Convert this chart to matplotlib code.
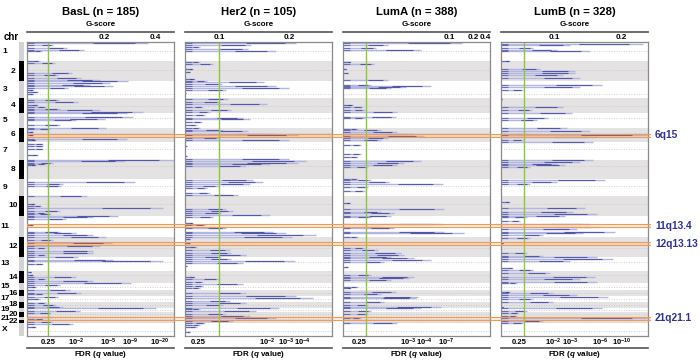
import matplotlib
matplotlib.use('Agg')
import matplotlib.pyplot as plt
import matplotlib.transforms as mtransforms
from matplotlib.patches import Rectangle

plt.rcParams['font.family'] = ['Liberation Sans', 'DejaVu Sans']
plt.rcParams['mathtext.fontset'] = 'custom'
plt.rcParams['mathtext.rm'] = 'Liberation Sans:bold'
plt.rcParams['mathtext.bf'] = 'Liberation Sans:bold'
plt.rcParams['mathtext.it'] = 'Liberation Sans:italic:bold'

# ---------------- data ----------------
chrom_names = [str(i) for i in range(1, 23)] + ['X']
chrom_sizes = [57, 61, 49, 46, 44, 43, 53, 58, 51, 61, 62, 60, 42, 38, 20, 18, 17, 18, 12, 15, 8, 12, 38]
centromere_frac = [0.5, 0.45, 0.75, 0.55, 0.35, 0.4, 0.4, 0.35, 0.4, 0.4, 0.4, 0.55, 0.4, 0.3, 0.5, 0.5, 0.5, 0.5, 0.5, 0.5, 0.5, 0.6, 0.6]

titles = ['BasL (n = 185)', 'Her2 (n = 105)', 'LumA (n = 388)', 'LumB (n = 328)']

# genomic position (cumulative units) and plotted score (% of panel width)
basl_pos = [3, 10, 17, 23, 28, 58, 63, 92, 98, 107, 113, 117, 122, 128, 132, 138, 143, 150, 155,
            175, 181, 190, 195, 200, 205, 210, 213, 225, 230, 235, 250, 257, 260, 270, 280, 291, 295,
            305, 313, 320, 340, 355, 357, 363, 365, 369, 420, 425, 432, 462, 487, 492, 500, 507, 513,
            518, 523, 527, 532, 551, 570, 575, 580, 585, 595, 605, 613, 620, 628, 635, 640, 647, 655,
            658, 667, 690, 700, 707, 713, 717, 723, 731, 737, 745, 753, 757, 765, 773, 783, 790, 795,
            800, 807, 815, 827, 833, 840, 848, 855]
basl_score = [82, 18, 27, 39, 10, 8.6, 18.9, 30.9, 21.1, 37, 49.5, 68.4, 56.4, 42.7, 58.2, 28, 4, 7.5, 4,
              21.8, 34.8, 7.5, 13.2, 22.3, 49.5, 79, 67.7, 71.8, 53, 33.6, 22.3, 54, 15.5, 4, 4, 67.7, 6.4,
              11, 11, 11, 7.5, 100, 66.6, 17.7, 13.2, 6.4, 73.4, 24.5, 23.4, 40.5, 5.2, 9.8, 92.7, 22.3, 13.2,
              16.6, 62, 45, 26.8, 4, 22.3, 33.6, 45, 54, 17.7, 57.5, 49.5, 13.2, 45, 45, 13.2, 34.8, 58.6,
              92.7, 11, 3, 4, 33.6, 13.2, 45, 71, 22.3, 6.4, 29, 37, 11, 21, 8.6, 13.2, 20, 24.5,
              88, 36, 16.6, 17.7, 11, 17.7, 31.4, 6.4]

her2_pos = [3, 8, 15, 22, 28, 60, 65, 80, 90, 112, 117, 120, 125, 132, 138, 145, 153,
            170, 180, 187, 195, 205, 211, 220, 227, 232, 240, 250, 257, 263, 267, 275, 280, 287, 295,
            313, 342, 350, 357, 363, 367, 373, 413, 420, 425, 432, 437, 455, 460, 502, 507, 513, 520, 525,
            543, 550, 560, 570, 575, 580, 585, 593, 605, 617, 625, 633, 640, 645, 653, 657, 663, 673,
            707, 713, 720, 727, 733, 740, 755, 763, 770, 777, 783, 790, 798, 803, 807, 817, 823, 830,
            837, 843, 850, 857, 870]
her2_score = [75.6, 45, 10, 43, 62, 10, 19, 5.6, 3.4, 6.8, 14.7, 54, 25, 62, 71, 28, 1,
              29, 24, 56, 12.4, 31.6, 17, 13.5, 39.5, 44, 11.3, 7.9, 10, 26, 43, 62, 76.7, 23.7, 71,
              1.1, 1.1, 71, 82.4, 76.7, 57.6, 41.8, 46, 53, 44, 22.6, 14.7, 17, 36, 28, 32.7, 24.8, 57.6, 19,
              5.6, 13.5, 28, 60, 69, 89, 73, 3.4, 3.4, 7.9, 30.5, 31.6, 41.8, 24.8, 31.6, 74.5, 39.5, 1.1,
              6.8, 23.7, 12.4, 39.5, 12.4, 10, 41.8, 75.6, 87, 30.5, 41.8, 26, 64, 10, 48.5, 28, 44, 62,
              32.7, 13.5, 10, 7.9, 3.4]

luma_pos = [3, 10, 17, 25, 60, 65, 80, 92, 115, 128, 132, 135, 138, 190, 195, 205, 210, 225, 228,
            260, 265, 271, 277, 283, 288, 295, 310, 335, 345, 357, 363, 370, 375, 410, 415, 420, 425,
            435, 447, 485, 503, 510, 515, 522, 527, 548, 555, 560, 570, 575, 585, 620, 625, 635, 640,
            645, 650, 655, 660, 675, 700, 705, 710, 715, 735, 740, 750, 757, 765, 770, 780, 790, 795,
            800, 807, 817, 830, 845]
luma_score = [81, 30.5, 22.6, 53, 5.6, 21.4, 2.3, 3.4, 30.5, 19, 60, 43, 32.7, 6.8, 13.5, 14.7, 37, 36, 14.7,
              10, 26, 37, 48.5, 55.3, 30.5, 26, 12.4, 12.4, 10, 53, 41.8, 37, 17, 10, 19, 31.6, 67.7,
              17, 14.7, 4.5, 68.8, 26, 35, 32.7, 19, 67.7, 26, 35, 68.8, 82.4, 10, 14.7, 23.7, 39.5, 41.8,
              32.7, 48.5, 60, 28, 3.4, 19, 48.5, 45, 32.7, 10, 5.6, 36, 26, 50.8, 49.7, 28, 17, 66.6,
              53, 19, 17, 12.4, 37]

lumb_pos = [5, 10, 17, 23, 27, 58, 80, 87, 93, 100, 107, 130, 135, 143, 170, 195, 205, 213, 227, 235,
            257, 268, 275, 280, 285, 293, 300, 355, 360, 365, 370, 375, 415, 420, 425, 480, 500, 510,
            517, 523, 527, 538, 548, 555, 563, 570, 575, 580, 590, 605, 635, 642, 647, 653, 658, 680,
            685, 695, 707, 713, 720, 725, 750, 755, 760, 765, 773, 780, 795, 800, 807, 813, 823, 830,
            837, 845]
lumb_score = [96.8, 47, 22, 37.9, 60.5, 6, 26.5, 50.3, 50.3, 42.4, 53.7, 68.5, 53.7, 15.2, 0.5, 42.4, 20.9, 48, 32.2, 24.3,
              44.7, 60.5, 19.7, 99, 65, 15.2, 62.8, 62.8, 53.7, 37.9, 43.5, 19.7, 70.7, 37.9, 19.7, 6.1, 57, 49.2,
              65, 43.5, 17.5, 13, 60.5, 67.3, 51.5, 77.5, 56, 28.8, 19.7, 1.6, 17.5, 28.8, 65, 76.4, 47, 8.4,
              22, 33.3, 64, 53.7, 65, 10.7, 6.1, 35.6, 51.5, 73, 22, 35.6, 1.6, 68.5, 17.5, 11.8, 10.7, 99,
              28.8, 15.2]

positions = [basl_pos, her2_pos, luma_pos, lumb_pos]
scores = [basl_score, her2_score, luma_score, lumb_score]

# q = 0.25 threshold position (% of panel width)
threshold = [14.3, 23.1, 15.6, 15.6]

gscore_tick_pos = [[52.4, 87.1], [23.1, 70.7], [72.1, 88.4, 96.6], [36.0, 81.6]]
gscore_tick_lab = [['0.2', '0.4'], ['0.1', '0.2'], ['0.1', '0.2', '0.4'], ['0.1', '0.2']]

fdr_tick_pos = [[14.3, 33.3, 55.1, 70.1, 90.5], [8.8, 55.8, 68.7, 79.6],
                [10.9, 44.5, 55.5, 70.1], [12.2, 35.4, 46.9, 67.3, 82.3]]
fdr_tick_lab = [['0.25', '$10^{-2}$', '$10^{-5}$', '$10^{-9}$', '$10^{-20}$'],
                ['0.25', '$10^{-2}$', '$10^{-3}$', '$10^{-4}$'],
                ['0.25', '$10^{-3}$', '$10^{-4}$', '$10^{-7}$'],
                ['0.25', '$10^{-2}$', '$10^{-3}$', '$10^{-6}$', '$10^{-10}$']]

peak_names = ['6q15', '11q13.4', '12q13.13', '21q21.1']
peak_start = [275, 547, 601, 825]
peak_end = [286, 556, 611, 834]

# ---------------- layout ----------------
W, H = 700, 364
fig = plt.figure(figsize=(W / 100, H / 100), dpi=100)

def fx(px):
    return px / W

def fy(py):
    return 1 - py / H

top_px, bot_px = 42, 336
panel_left = [27, 185, 343, 501]
panel_w = 147
total = sum(chrom_sizes)
starts = [sum(chrom_sizes[:i]) for i in range(len(chrom_sizes))]

band_color = '#e4e2e2'
light_bar = '#b3b6e1'
dark_bar = '#2c3190'
green = '#8cc63f'
label_blue = '#2e3192'

def ax_y(py):
    return (bot_px - py) / (bot_px - top_px)

for k in range(4):
    ax = fig.add_axes([fx(panel_left[k]), fy(bot_px), panel_w / W, (bot_px - top_px) / H])
    ax.set_xlim(0, 100)
    ax.set_ylim(total, 0)
    ax.set_xticks([])
    ax.set_yticks([])
    for s in ax.spines.values():
        s.set_color('#8a8a8a')
        s.set_linewidth(0.9)
    for i, (st, sz) in enumerate(zip(starts, chrom_sizes)):
        if i % 2 == 1:
            ax.axhspan(st, st + sz, color=band_color, lw=0, zorder=0)
        ax.hlines(st + sz * centromere_frac[i], 0, 100, colors='#c4c4c4', lw=0.6,
                  linestyles=(0, (1, 2)), zorder=0.5)
    pos = positions[k]
    sc = scores[k]
    ax.hlines(pos, 0, sc, colors=light_bar, lw=1.0, zorder=1)
    ax.hlines(pos, [0.55 * v for v in sc], [0.9 * v for v in sc], colors=dark_bar, lw=0.8, alpha=0.7, zorder=1.2)
    ax.hlines(pos, 0, [min(v, 5) for v in sc], colors=dark_bar, lw=0.8, alpha=0.55, zorder=1.2)
    ax.axvline(threshold[k], color=green, lw=1.0, zorder=2)

    trans = mtransforms.blended_transform_factory(ax.transData, ax.transAxes)
    ax.text(50, ax_y(12), titles[k], transform=trans, ha='center', va='center',
            fontsize=8.2, fontweight='bold')
    ax.text(50, ax_y(25), 'G-score', transform=trans, ha='center', va='center',
            fontsize=5.8, fontweight='bold')
    ax.plot([0, 100], [ax_y(32), ax_y(32)], transform=trans, clip_on=False, color='#555555', lw=1.2)
    for p, lab in zip(gscore_tick_pos[k], gscore_tick_lab[k]):
        ax.text(p, ax_y(37.5), lab, transform=trans, ha='center', va='center',
                fontsize=5.8, fontweight='bold')
    for p, lab in zip(fdr_tick_pos[k], fdr_tick_lab[k]):
        ax.text(p, ax_y(342.5), lab, transform=trans, ha='center', va='center',
                fontsize=5.5, fontweight='bold')
    ax.plot([0, 100], [ax_y(348), ax_y(348)], transform=trans, clip_on=False, color='#555555', lw=1.2)
    ax.text(50, ax_y(355), 'FDR ($q$ value)', transform=trans, ha='center', va='center',
            fontsize=5.8, fontweight='bold')

# ideogram
idx = fig.add_axes([fx(19), fy(bot_px), 4.5 / W, (bot_px - top_px) / H])
idx.set_xlim(0, 1)
idx.set_ylim(total, 0)
idx.set_facecolor('#d3d3d3')
idx.set_xticks([])
idx.set_yticks([])
for s in idx.spines.values():
    s.set_visible(False)
ytrans = mtransforms.blended_transform_factory(fig.transFigure, idx.transData)
for i, (st, sz) in enumerate(zip(starts, chrom_sizes)):
    if i % 2 == 1:
        idx.axhspan(st + 0.5, st + sz - 0.5, color='black', lw=0)
    xpx = 13.5 if i % 2 == 1 else 5.0
    idx.text(fx(xpx), st + sz / 2, chrom_names[i], ha='center', va='center', fontsize=6,
             fontweight='bold', transform=ytrans)
fig.text(fx(11), fy(37), 'chr', ha='center', va='center', fontsize=7, fontweight='bold')

# peak highlight boxes across all panels
ov = fig.add_axes([fx(27), fy(bot_px), (651 - 27) / W, (bot_px - top_px) / H], zorder=10)
ov.set_xlim(0, 1)
ov.set_ylim(total, 0)
ov.axis('off')
ov.patch.set_visible(False)
otrans = mtransforms.blended_transform_factory(ov.transAxes, ov.transData)
for name, s0, s1 in zip(peak_names, peak_start, peak_end):
    ov.add_patch(Rectangle((0, s0), 1, s1 - s0, facecolor=(0.98, 0.6, 0.3, 0.15),
                           edgecolor='#f29a55', lw=0.8))
    ov.text(1.0065, (s0 + s1) / 2, name, ha='left', va='center', fontsize=7.3,
            fontweight='bold', color=label_blue, transform=otrans)

fig.savefig('out.png', dpi=100)
